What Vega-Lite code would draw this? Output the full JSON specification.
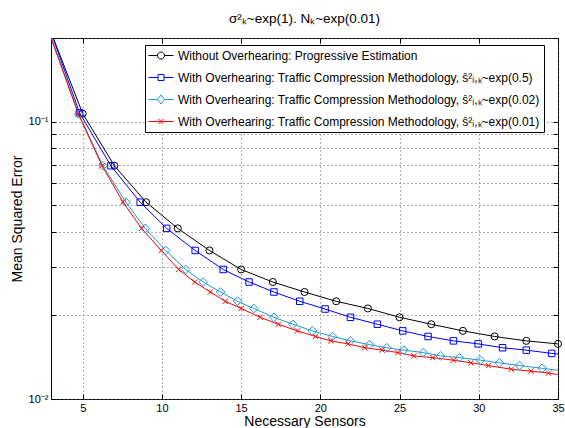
{
  "$schema": "https://vega.github.io/schema/vega-lite/v6.json",
  "width": 507,
  "height": 361,
  "autosize": {"type": "none"},
  "padding": {"left": 51, "top": 38, "right": 7, "bottom": 29},
  "background": "white",
  "config": {"view": {"stroke": "black", "strokeWidth": 1}, "font": "Liberation Sans"},
  "title": {"text": "σ²ₖ~exp(1). Nₖ~exp(0.01)", "fontSize": 13.5, "fontWeight": "normal", "font": "Liberation Sans", "color": "black", "anchor": "middle", "offset": 12},
  "datasets": {
    "mse": [
      {"series": "Without Overhearing: Progressive Estimation", "x": 3, "y": 0.21},
      {"series": "Without Overhearing: Progressive Estimation", "x": 5, "y": 0.1068},
      {"series": "Without Overhearing: Progressive Estimation", "x": 7, "y": 0.0693},
      {"series": "Without Overhearing: Progressive Estimation", "x": 9, "y": 0.0512},
      {"series": "Without Overhearing: Progressive Estimation", "x": 11, "y": 0.0412},
      {"series": "Without Overhearing: Progressive Estimation", "x": 13, "y": 0.0343},
      {"series": "Without Overhearing: Progressive Estimation", "x": 15, "y": 0.0293},
      {"series": "Without Overhearing: Progressive Estimation", "x": 17, "y": 0.0264},
      {"series": "Without Overhearing: Progressive Estimation", "x": 19, "y": 0.0243},
      {"series": "Without Overhearing: Progressive Estimation", "x": 21, "y": 0.0225},
      {"series": "Without Overhearing: Progressive Estimation", "x": 23, "y": 0.0212},
      {"series": "Without Overhearing: Progressive Estimation", "x": 25, "y": 0.0197},
      {"series": "Without Overhearing: Progressive Estimation", "x": 27, "y": 0.0186},
      {"series": "Without Overhearing: Progressive Estimation", "x": 29, "y": 0.0176},
      {"series": "Without Overhearing: Progressive Estimation", "x": 31, "y": 0.0168},
      {"series": "Without Overhearing: Progressive Estimation", "x": 33, "y": 0.0162},
      {"series": "Without Overhearing: Progressive Estimation", "x": 35, "y": 0.0158},

      {"series": "With Overhearing: Traffic Compression Methodology, ŝ²ᵢ,ₖ~exp(0.5)", "x": 3, "y": 0.21},
      {"series": "With Overhearing: Traffic Compression Methodology, ŝ²ᵢ,ₖ~exp(0.5)", "x": 4.8, "y": 0.1075},
      {"series": "With Overhearing: Traffic Compression Methodology, ŝ²ᵢ,ₖ~exp(0.5)", "x": 6.78, "y": 0.0693},
      {"series": "With Overhearing: Traffic Compression Methodology, ŝ²ᵢ,ₖ~exp(0.5)", "x": 8.63, "y": 0.0512},
      {"series": "With Overhearing: Traffic Compression Methodology, ŝ²ᵢ,ₖ~exp(0.5)", "x": 10.3, "y": 0.0412},
      {"series": "With Overhearing: Traffic Compression Methodology, ŝ²ᵢ,ₖ~exp(0.5)", "x": 12.1, "y": 0.0343},
      {"series": "With Overhearing: Traffic Compression Methodology, ŝ²ᵢ,ₖ~exp(0.5)", "x": 13.87, "y": 0.0293},
      {"series": "With Overhearing: Traffic Compression Methodology, ŝ²ᵢ,ₖ~exp(0.5)", "x": 15.5, "y": 0.0264},
      {"series": "With Overhearing: Traffic Compression Methodology, ŝ²ᵢ,ₖ~exp(0.5)", "x": 17.07, "y": 0.0243},
      {"series": "With Overhearing: Traffic Compression Methodology, ŝ²ᵢ,ₖ~exp(0.5)", "x": 18.7, "y": 0.0225},
      {"series": "With Overhearing: Traffic Compression Methodology, ŝ²ᵢ,ₖ~exp(0.5)", "x": 20.3, "y": 0.0211},
      {"series": "With Overhearing: Traffic Compression Methodology, ŝ²ᵢ,ₖ~exp(0.5)", "x": 21.9, "y": 0.0197},
      {"series": "With Overhearing: Traffic Compression Methodology, ŝ²ᵢ,ₖ~exp(0.5)", "x": 23.6, "y": 0.0186},
      {"series": "With Overhearing: Traffic Compression Methodology, ŝ²ᵢ,ₖ~exp(0.5)", "x": 25.2, "y": 0.0176},
      {"series": "With Overhearing: Traffic Compression Methodology, ŝ²ᵢ,ₖ~exp(0.5)", "x": 26.8, "y": 0.0168},
      {"series": "With Overhearing: Traffic Compression Methodology, ŝ²ᵢ,ₖ~exp(0.5)", "x": 28.4, "y": 0.0162},
      {"series": "With Overhearing: Traffic Compression Methodology, ŝ²ᵢ,ₖ~exp(0.5)", "x": 29.96, "y": 0.0158},
      {"series": "With Overhearing: Traffic Compression Methodology, ŝ²ᵢ,ₖ~exp(0.5)", "x": 31.5, "y": 0.0153},
      {"series": "With Overhearing: Traffic Compression Methodology, ŝ²ᵢ,ₖ~exp(0.5)", "x": 33.0, "y": 0.0150},
      {"series": "With Overhearing: Traffic Compression Methodology, ŝ²ᵢ,ₖ~exp(0.5)", "x": 34.6, "y": 0.0146},
      {"series": "With Overhearing: Traffic Compression Methodology, ŝ²ᵢ,ₖ~exp(0.5)", "x": 36.2, "y": 0.0143},

      {"series": "With Overhearing: Traffic Compression Methodology, ŝ²ᵢ,ₖ~exp(0.02)", "x": 3, "y": 0.203},
      {"series": "With Overhearing: Traffic Compression Methodology, ŝ²ᵢ,ₖ~exp(0.02)", "x": 4.75, "y": 0.1064},
      {"series": "With Overhearing: Traffic Compression Methodology, ŝ²ᵢ,ₖ~exp(0.02)", "x": 6.27, "y": 0.0693},
      {"series": "With Overhearing: Traffic Compression Methodology, ŝ²ᵢ,ₖ~exp(0.02)", "x": 7.73, "y": 0.0512},
      {"series": "With Overhearing: Traffic Compression Methodology, ŝ²ᵢ,ₖ~exp(0.02)", "x": 8.95, "y": 0.0412},
      {"series": "With Overhearing: Traffic Compression Methodology, ŝ²ᵢ,ₖ~exp(0.02)", "x": 10.24, "y": 0.0343},
      {"series": "With Overhearing: Traffic Compression Methodology, ŝ²ᵢ,ₖ~exp(0.02)", "x": 11.5, "y": 0.0293},
      {"series": "With Overhearing: Traffic Compression Methodology, ŝ²ᵢ,ₖ~exp(0.02)", "x": 12.6, "y": 0.0264},
      {"series": "With Overhearing: Traffic Compression Methodology, ŝ²ᵢ,ₖ~exp(0.02)", "x": 13.7, "y": 0.0243},
      {"series": "With Overhearing: Traffic Compression Methodology, ŝ²ᵢ,ₖ~exp(0.02)", "x": 14.77, "y": 0.0225},
      {"series": "With Overhearing: Traffic Compression Methodology, ŝ²ᵢ,ₖ~exp(0.02)", "x": 15.8, "y": 0.0212},
      {"series": "With Overhearing: Traffic Compression Methodology, ŝ²ᵢ,ₖ~exp(0.02)", "x": 17.07, "y": 0.0197},
      {"series": "With Overhearing: Traffic Compression Methodology, ŝ²ᵢ,ₖ~exp(0.02)", "x": 18.27, "y": 0.0186},
      {"series": "With Overhearing: Traffic Compression Methodology, ŝ²ᵢ,ₖ~exp(0.02)", "x": 19.5, "y": 0.0176},
      {"series": "With Overhearing: Traffic Compression Methodology, ŝ²ᵢ,ₖ~exp(0.02)", "x": 20.77, "y": 0.0168},
      {"series": "With Overhearing: Traffic Compression Methodology, ŝ²ᵢ,ₖ~exp(0.02)", "x": 21.9, "y": 0.0162},
      {"series": "With Overhearing: Traffic Compression Methodology, ŝ²ᵢ,ₖ~exp(0.02)", "x": 23.1, "y": 0.0157},
      {"series": "With Overhearing: Traffic Compression Methodology, ŝ²ᵢ,ₖ~exp(0.02)", "x": 24.2, "y": 0.0153},
      {"series": "With Overhearing: Traffic Compression Methodology, ŝ²ᵢ,ₖ~exp(0.02)", "x": 25.26, "y": 0.0150},
      {"series": "With Overhearing: Traffic Compression Methodology, ŝ²ᵢ,ₖ~exp(0.02)", "x": 26.5, "y": 0.0147},
      {"series": "With Overhearing: Traffic Compression Methodology, ŝ²ᵢ,ₖ~exp(0.02)", "x": 27.58, "y": 0.0143},
      {"series": "With Overhearing: Traffic Compression Methodology, ŝ²ᵢ,ₖ~exp(0.02)", "x": 28.78, "y": 0.0141},
      {"series": "With Overhearing: Traffic Compression Methodology, ŝ²ᵢ,ₖ~exp(0.02)", "x": 30.1, "y": 0.0138},
      {"series": "With Overhearing: Traffic Compression Methodology, ŝ²ᵢ,ₖ~exp(0.02)", "x": 31.3, "y": 0.0135},
      {"series": "With Overhearing: Traffic Compression Methodology, ŝ²ᵢ,ₖ~exp(0.02)", "x": 32.57, "y": 0.0132},
      {"series": "With Overhearing: Traffic Compression Methodology, ŝ²ᵢ,ₖ~exp(0.02)", "x": 34.0, "y": 0.0129},
      {"series": "With Overhearing: Traffic Compression Methodology, ŝ²ᵢ,ₖ~exp(0.02)", "x": 35.4, "y": 0.0126},

      {"series": "With Overhearing: Traffic Compression Methodology, ŝ²ᵢ,ₖ~exp(0.01)", "x": 3, "y": 0.2},
      {"series": "With Overhearing: Traffic Compression Methodology, ŝ²ᵢ,ₖ~exp(0.01)", "x": 4.72, "y": 0.1066},
      {"series": "With Overhearing: Traffic Compression Methodology, ŝ²ᵢ,ₖ~exp(0.01)", "x": 6.22, "y": 0.0693},
      {"series": "With Overhearing: Traffic Compression Methodology, ŝ²ᵢ,ₖ~exp(0.01)", "x": 7.55, "y": 0.0512},
      {"series": "With Overhearing: Traffic Compression Methodology, ŝ²ᵢ,ₖ~exp(0.01)", "x": 8.72, "y": 0.0412},
      {"series": "With Overhearing: Traffic Compression Methodology, ŝ²ᵢ,ₖ~exp(0.01)", "x": 9.96, "y": 0.0343},
      {"series": "With Overhearing: Traffic Compression Methodology, ŝ²ᵢ,ₖ~exp(0.01)", "x": 11.06, "y": 0.0293},
      {"series": "With Overhearing: Traffic Compression Methodology, ŝ²ᵢ,ₖ~exp(0.01)", "x": 12.07, "y": 0.0264},
      {"series": "With Overhearing: Traffic Compression Methodology, ŝ²ᵢ,ₖ~exp(0.01)", "x": 13.06, "y": 0.0243},
      {"series": "With Overhearing: Traffic Compression Methodology, ŝ²ᵢ,ₖ~exp(0.01)", "x": 14.0, "y": 0.0225},
      {"series": "With Overhearing: Traffic Compression Methodology, ŝ²ᵢ,ₖ~exp(0.01)", "x": 15.0, "y": 0.0212},
      {"series": "With Overhearing: Traffic Compression Methodology, ŝ²ᵢ,ₖ~exp(0.01)", "x": 16.2, "y": 0.0197},
      {"series": "With Overhearing: Traffic Compression Methodology, ŝ²ᵢ,ₖ~exp(0.01)", "x": 17.35, "y": 0.0186},
      {"series": "With Overhearing: Traffic Compression Methodology, ŝ²ᵢ,ₖ~exp(0.01)", "x": 18.55, "y": 0.0176},
      {"series": "With Overhearing: Traffic Compression Methodology, ŝ²ᵢ,ₖ~exp(0.01)", "x": 19.7, "y": 0.0168},
      {"series": "With Overhearing: Traffic Compression Methodology, ŝ²ᵢ,ₖ~exp(0.01)", "x": 20.66, "y": 0.0162},
      {"series": "With Overhearing: Traffic Compression Methodology, ŝ²ᵢ,ₖ~exp(0.01)", "x": 21.75, "y": 0.0158},
      {"series": "With Overhearing: Traffic Compression Methodology, ŝ²ᵢ,ₖ~exp(0.01)", "x": 22.8, "y": 0.0153},
      {"series": "With Overhearing: Traffic Compression Methodology, ŝ²ᵢ,ₖ~exp(0.01)", "x": 23.9, "y": 0.0150},
      {"series": "With Overhearing: Traffic Compression Methodology, ŝ²ᵢ,ₖ~exp(0.01)", "x": 24.9, "y": 0.0147},
      {"series": "With Overhearing: Traffic Compression Methodology, ŝ²ᵢ,ₖ~exp(0.01)", "x": 25.9, "y": 0.0143},
      {"series": "With Overhearing: Traffic Compression Methodology, ŝ²ᵢ,ₖ~exp(0.01)", "x": 27.1, "y": 0.0141},
      {"series": "With Overhearing: Traffic Compression Methodology, ŝ²ᵢ,ₖ~exp(0.01)", "x": 28.4, "y": 0.0138},
      {"series": "With Overhearing: Traffic Compression Methodology, ŝ²ᵢ,ₖ~exp(0.01)", "x": 29.5, "y": 0.0135},
      {"series": "With Overhearing: Traffic Compression Methodology, ŝ²ᵢ,ₖ~exp(0.01)", "x": 30.6, "y": 0.0132},
      {"series": "With Overhearing: Traffic Compression Methodology, ŝ²ᵢ,ₖ~exp(0.01)", "x": 32.05, "y": 0.0128},
      {"series": "With Overhearing: Traffic Compression Methodology, ŝ²ᵢ,ₖ~exp(0.01)", "x": 33.3, "y": 0.0126},
      {"series": "With Overhearing: Traffic Compression Methodology, ŝ²ᵢ,ₖ~exp(0.01)", "x": 34.4, "y": 0.0124},
      {"series": "With Overhearing: Traffic Compression Methodology, ŝ²ᵢ,ₖ~exp(0.01)", "x": 35.6, "y": 0.0121}
    ]
  },
  "data": {"name": "mse"},
  "layer": [
    {
      "mark": {"type": "line", "clip": true, "strokeWidth": 1},
      "encoding": {
        "x": {"field": "x", "type": "quantitative", "scale": {"domain": [3, 35], "nice": false, "zero": false},
          "axis": {"values": [5, 10, 15, 20, 25, 30, 35], "grid": true, "gridDash": [1, 3], "gridColor": "#666", "gridWidth": 1, "domain": false,
            "tickSize": -5, "tickColor": "black", "labelPadding": 8, "labelFontSize": 11, "labelColor": "black", "labelFont": "Liberation Sans",
            "title": "Necessary Sensors", "titleFontSize": 14, "titleFontWeight": "normal", "titleColor": "black", "titleFont": "Liberation Sans", "titlePadding": 1, "labelFlush": false}},
        "y": {"field": "y", "type": "quantitative", "scale": {"type": "log", "domain": [0.01, 0.2], "nice": false},
          "axis": {"values": [0.01, 0.02, 0.03, 0.04, 0.05, 0.06, 0.07, 0.08, 0.09, 0.1, 0.2],
            "labelExpr": "datum.value == 0.1 ? '10⁻¹' : (datum.value == 0.01 ? '10⁻²' : '')",
            "grid": true, "gridDash": [1, 3], "gridColor": "#666", "gridWidth": 1, "domain": false,
            "tickSize": -5, "tickColor": "black", "labelPadding": 8, "labelFontSize": 11, "labelColor": "black", "labelFont": "Liberation Sans",
            "title": "Mean Squared Error", "titleFontSize": 14, "titleFontWeight": "normal", "titleColor": "black", "titleFont": "Liberation Sans", "titlePadding": 4}},
        "color": {"field": "series", "type": "nominal",
          "scale": {"domain": [
            "Without Overhearing: Progressive Estimation",
            "With Overhearing: Traffic Compression Methodology, ŝ²ᵢ,ₖ~exp(0.5)",
            "With Overhearing: Traffic Compression Methodology, ŝ²ᵢ,ₖ~exp(0.02)",
            "With Overhearing: Traffic Compression Methodology, ŝ²ᵢ,ₖ~exp(0.01)"],
            "range": ["#000000", "#0000ff", "#1f97d4", "#ff0000"]},
          "legend": {"orient": "none", "legendX": 94, "legendY": 7, "direction": "vertical", "title": null,
            "labelFont": "Liberation Sans", "labelFontSize": 12, "labelLimit": 600, "labelColor": "black",
            "symbolSize": 144, "symbolStrokeWidth": 1, "symbolType": "stroke",
            "strokeColor": "black", "fillColor": "white", "padding": 4, "rowPadding": 9, "labelOffset": 16,
            "encode": {"symbols": {"update": {
              "shape": {"signal": "['M-1.167,0H0.333M1.5,0H3M0.333,0A0.583,0.583 0 1,0 1.5,0A0.583,0.583 0 1,0 0.333,0', 'M-1.167,0H0.417M1.417,0H3M0.417,-0.5H1.417V0.5H0.417Z', 'M-1.167,0H0.333M1.5,0H3M0.333,0L0.917,-0.75L1.5,0L0.917,0.75Z', 'M-1.167,0H3M0.5,-0.417L1.333,0.417M0.5,0.417L1.333,-0.417'][datum.index]"},
              "fill": {"value": "transparent"}}}}}
        }
      }
    },
    {
      "transform": [{"filter": {"field": "series", "equal": "Without Overhearing: Progressive Estimation"}}, {"filter": "datum.x <= 35.05 && datum.y < 0.15"}],
      "mark": {"type": "point", "filled": false, "strokeWidth": 1, "opacity": 1, "shape": "circle", "size": 50},
      "encoding": {
        "x": {"field": "x", "type": "quantitative",
          "axis": {"orient": "top", "values": [5, 10, 15, 20, 25, 30, 35], "labels": false, "title": null, "grid": false, "domain": false, "tickSize": -5, "tickColor": "black"}},
        "y": {"field": "y", "type": "quantitative",
          "axis": {"orient": "right", "values": [0.01, 0.02, 0.03, 0.04, 0.05, 0.06, 0.07, 0.08, 0.09, 0.1, 0.2], "labels": false, "title": null, "grid": false, "domain": false, "tickSize": -5, "tickColor": "black"}},
        "color": {"field": "series", "type": "nominal", "legend": null}
      }
    },
    {
      "transform": [{"filter": {"field": "series", "equal": "With Overhearing: Traffic Compression Methodology, ŝ²ᵢ,ₖ~exp(0.5)"}}, {"filter": "datum.x <= 35.05 && datum.y < 0.15"}],
      "mark": {"type": "point", "filled": false, "strokeWidth": 1, "opacity": 1, "shape": "square", "size": 42},
      "encoding": {
        "x": {"field": "x", "type": "quantitative", "axis": null},
        "y": {"field": "y", "type": "quantitative", "axis": null},
        "color": {"field": "series", "type": "nominal", "legend": null}
      }
    },
    {
      "transform": [{"filter": {"field": "series", "equal": "With Overhearing: Traffic Compression Methodology, ŝ²ᵢ,ₖ~exp(0.02)"}}, {"filter": "datum.x <= 35.05 && datum.y < 0.15"}],
      "mark": {"type": "point", "filled": false, "strokeWidth": 1, "opacity": 1, "shape": "diamond", "size": 75},
      "encoding": {
        "x": {"field": "x", "type": "quantitative", "axis": null},
        "y": {"field": "y", "type": "quantitative", "axis": null},
        "color": {"field": "series", "type": "nominal", "legend": null}
      }
    },
    {
      "transform": [{"filter": {"field": "series", "equal": "With Overhearing: Traffic Compression Methodology, ŝ²ᵢ,ₖ~exp(0.01)"}}, {"filter": "datum.x <= 35.05 && datum.y < 0.15"}],
      "mark": {"type": "point", "filled": false, "strokeWidth": 1, "opacity": 1, "shape": "M-1,-1L1,1M-1,1L1,-1", "size": 28},
      "encoding": {
        "x": {"field": "x", "type": "quantitative", "axis": null},
        "y": {"field": "y", "type": "quantitative", "axis": null},
        "color": {"field": "series", "type": "nominal", "legend": null}
      }
    }
  ],
  "resolve": {"axis": {"x": "independent", "y": "independent"}}
}
